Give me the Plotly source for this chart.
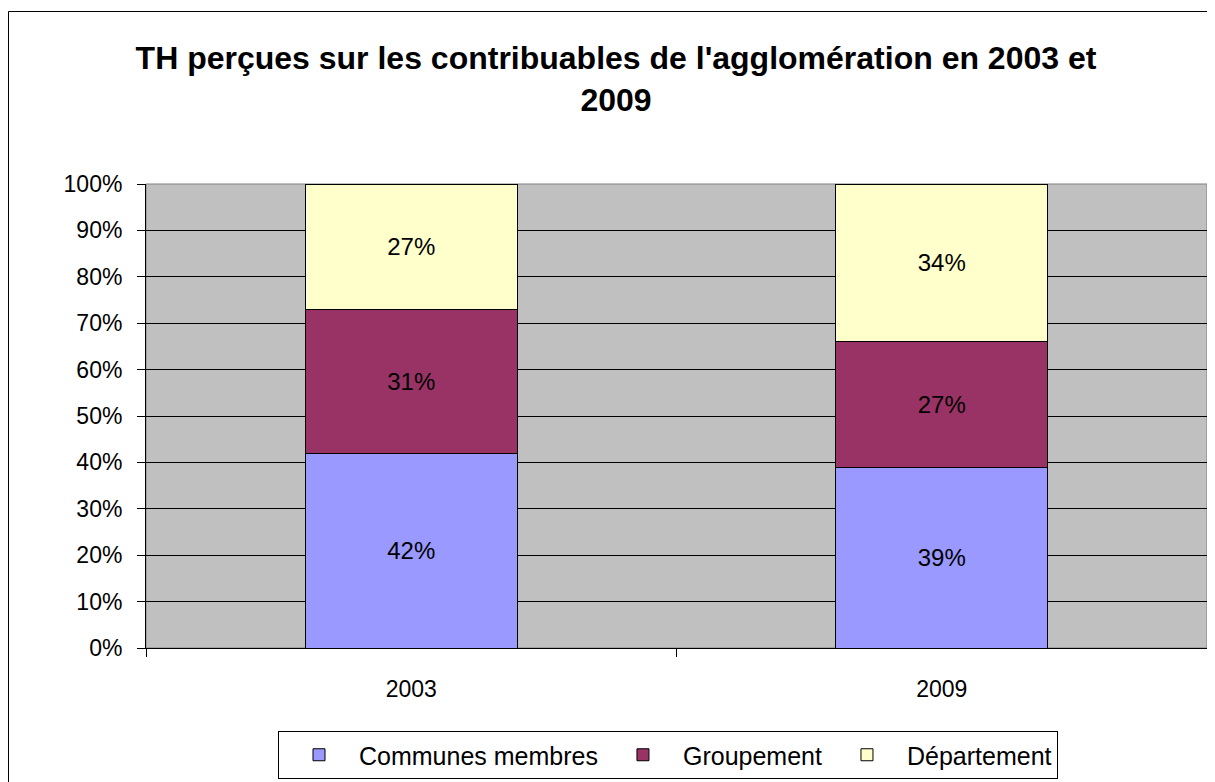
import plotly.graph_objects as go

years = ["2003", "2009"]
series_names = ["Communes membres", "Groupement", "Département"]
communes = [42, 39]
groupement = [31, 27]
departement = [27, 34]
colors = ["#9999FF", "#993366", "#FFFFCC"]
y_ticks = list(range(0, 101, 10))
y_tick_labels = [f"{v}%" for v in y_ticks]

# page has an 8px body margin, so the figure is drawn 8px in from the top-left
OFF = 8
W, H = 1215 - OFF, 782 - OFF
ml, mr, mt, mb = 146 - OFF, 8, 184 - OFF, 134
pw = W - ml - mr
ph = H - mt - mb

def px_x(p):  # reference pixel -> paper x
    return (p - OFF - ml) / pw

def px_y(p):  # reference pixel -> paper y
    return (H - mb - (p - OFF)) / ph

FONT = "Liberation Sans, Arial"
fig = go.Figure()
for name, vals, col in zip(series_names, [communes, groupement, departement], colors):
    fig.add_trace(go.Bar(
        x=years, y=vals, name=name,
        marker=dict(color=col, line=dict(color="black", width=1)),
        text=[f"{v}%" for v in vals], textposition="inside",
        insidetextanchor="middle",
        textfont=dict(family=FONT, size=24, color="black"),
        hoverinfo="skip",
    ))

fig.update_layout(
    width=W, height=H,
    margin=dict(l=ml, r=mr, t=mt, b=mb, pad=0),
    barmode="stack", bargap=0.6,
    paper_bgcolor="white", plot_bgcolor="#C0C0C0",
    font=dict(family=FONT, size=23, color="black"),
    title=dict(
        text="<b>TH perçues sur les contribuables de l'agglomération en 2003 et<br>2009</b>",
        x=(616 - OFF) / W, xanchor="center", y=1 - (69 - OFF) / H, yanchor="middle",
        font=dict(family=FONT, size=32, color="black"),
    ),
    showlegend=True,
    legend=dict(
        orientation="h", xref="container", yref="container",
        x=(1058 - OFF) / W, xanchor="right", y=1 - (731 - OFF) / H, yanchor="top",
        bordercolor="black", borderwidth=1, bgcolor="white",
        font=dict(family=FONT, size=25, color="black"),
        traceorder="normal", itemwidth=70,
    ),
    xaxis=dict(
        type="category", showgrid=False, showline=True, linecolor="black", linewidth=1,
        ticks="outside", ticklen=8, tickcolor="black", tickson="boundaries",
        tickfont=dict(size=23), ticklabelstandoff=20, fixedrange=True, automargin=False,
    ),
    yaxis=dict(
        range=[0, 100], tickvals=y_ticks, ticktext=y_tick_labels,
        showgrid=True, gridcolor="black", gridwidth=1,
        showline=True, linecolor="black", linewidth=1,
        ticks="outside", ticklen=8, tickcolor="black",
        tickfont=dict(size=23), ticklabelstandoff=10,
        zeroline=False, fixedrange=True, automargin=False,
    ),
    shapes=[
        dict(type="rect", xref="paper", yref="paper", x0=0, x1=1, y0=0, y1=1,
             line=dict(color="#808080", width=1), layer="below"),
        dict(type="rect", xref="paper", yref="paper",
             x0=px_x(8.5), x1=px_x(1222), y0=px_y(800), y1=px_y(11.5),
             line=dict(color="black", width=1)),
    ],
)

fig.write_html("out.html")
